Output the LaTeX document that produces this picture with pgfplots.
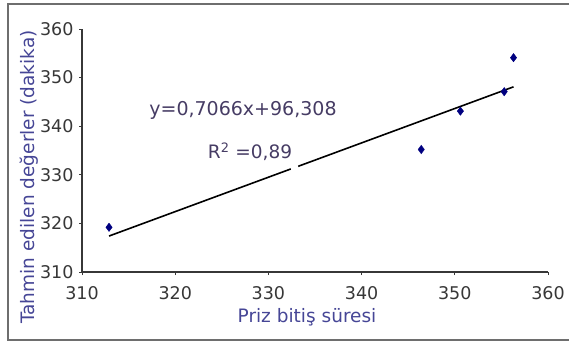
\documentclass[border=0pt]{standalone}
\usepackage{fontspec}
\setmainfont{DejaVu Sans}
\usepackage{pgfplots}
\pgfplotsset{compat=1.18}
\definecolor{axgray}{RGB}{55,55,55}
\definecolor{lblblue}{RGB}{70,70,150}
\definecolor{eqcol}{RGB}{70,60,100}
\definecolor{navy}{RGB}{0,0,128}
\definecolor{framegray}{RGB}{110,110,110}
\begin{document}
\begin{tikzpicture}[x=1pt,y=1pt]
\useasboundingbox (0,0) rectangle (569,343);
\begin{scope}
\clip (0,0) rectangle (569,343);
\draw[framegray, line width=2.2pt] (575,339) -- (8,339) -- (8,3) -- (575,3);
\end{scope}
\begin{axis}[
  at={(82pt,71pt)}, anchor=origin,
  scale only axis, width=466pt, height=243pt,
  xmin=310, xmax=360, ymin=310, ymax=360,
  axis x line*=bottom, axis y line*=left,
  axis line style={axgray, line width=1.4pt, -},
  xtick={310,320,...,360}, ytick={310,320,...,360},
  tick align=outside, major tick length=3pt,
  tick style={axgray, line width=1pt},
  /pgf/number format/assume math mode=true,
  ticklabel style={font=\fontsize{17.5}{19}\selectfont, text=axgray},
  xticklabel style={yshift=-8pt},
  yticklabel style={xshift=-2pt},
  clip=false,
]
\addplot[only marks, mark=diamond*, mark size=4.2pt, navy] coordinates {
  (312.9,319.2) (346.4,335.2) (350.6,343.1) (355.3,347.1) (356.3,354.1)
};
\addplot[black, line width=1.6pt, mark=none, unbounded coords=jump] coordinates {
  (312.9,317.4) (332.4,331.2) (333.2,nan) (333.2,331.75) (356.3,348.1)
};
\end{axis}
\node[lblblue, font=\fontsize{18.5}{20}\selectfont, rotate=90] at (29,166) {Tahmin edilen değerler (dakika)};
\node[lblblue, font=\fontsize{18.5}{20}\selectfont] at (307,26) {Priz bitiş süresi};
\node[eqcol, font=\fontsize{19}{21}\selectfont] at (243,233) {y=0,7066x+96,308};
\node[eqcol, font=\fontsize{18.5}{20}\selectfont] at (250,191) {R\textsuperscript{2} =0,89};
\end{tikzpicture}
\end{document}
